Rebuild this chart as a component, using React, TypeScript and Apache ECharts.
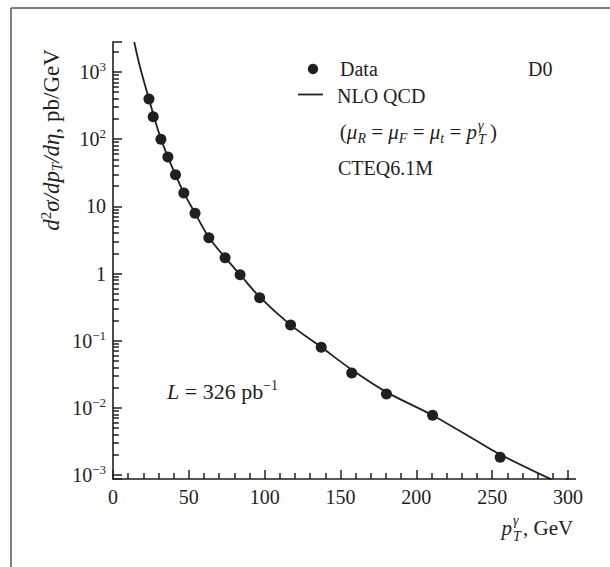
import React, { useEffect, useRef } from 'react';
import * as echarts from 'echarts';

const FONT = 'Liberation Serif, serif';
const INK = '#231f20';

// Measured D0 data points
const dataPt = [23.7, 26.5, 31.6, 36.2, 41.2, 46.7, 54.1, 63.2, 73.9, 83.8, 96.7, 117.1, 137.3, 157.4, 180.3, 210.7, 255.3];
const dataSigma = [396, 216, 100, 54.3, 29.6, 15.8, 7.87, 3.41, 1.72, 0.96, 0.436, 0.171, 0.0796, 0.033, 0.0161, 0.00775, 0.00184];

// NLO QCD curve
const nloPt = [14, 16, 18, 20, 23, 26, 30, 35, 40, 46, 54, 63, 74, 84, 97, 117, 137, 157, 180, 210, 240, 255, 289];
const nloSigma = [2800, 1750, 1150, 780, 450, 260, 130, 63, 34, 17, 8.0, 3.5, 1.72, 0.95, 0.44, 0.172, 0.081, 0.0375, 0.0173, 0.0079, 0.0032, 0.00204, 0.00086];

// Axes
const xMin = 0;
const xMax = 300;
const yMin = 0.000872;
const yMax = 2797;
const xMajorTicks = [0, 50, 100, 150, 200, 250, 300];
const yMajorTicks = [0.001, 0.01, 0.1, 1, 10, 100, 1000];
const yMinorMultipliers = [2, 3, 4, 5, 6, 7, 8, 9];
const yLabels: Record<string, string> = {
  '-3': '{b|10}{s|\u22123}',
  '-2': '{b|10}{s|\u22122}',
  '-1': '{b|10}{s|\u22121}',
  '0': '{b|1}',
  '1': '{b|10}',
  '2': '{b|10}{s|2}',
  '3': '{b|10}{s|3}',
};

const yMinorTicks: number[] = [];
yMajorTicks.forEach((d) => {
  yMinorMultipliers.forEach((m) => {
    const v = m * d;
    if (v < yMax) yMinorTicks.push(v);
  });
});

// minor y tick length in x-axis units (about 6 px)
const Y_TICK_MINOR = 3.9;

const tf = (style: string, size: number) => `${style} ${size}px ${FONT}`;
const mkRich = (size: number, small: number) => ({
  r: { font: tf('normal', size), lineHeight: 26 },
  i: { font: tf('italic', size), lineHeight: 26 },
  sup: { font: tf('normal', small), lineHeight: 13, verticalAlign: 'top' },
  sub: { font: tf('italic', small), lineHeight: 13, verticalAlign: 'bottom' },
});

const txt = (text: string, x: number, y: number, align = 'left', size = 20, small = 13, extra: any = {}) => ({
  type: 'text',
  x,
  y,
  silent: true,
  ...extra,
  style: {
    text,
    font: tf('normal', size),
    fill: INK,
    textAlign: align,
    textVerticalAlign: 'middle',
    rich: mkRich(size, small),
  },
});

const plain = (text: string, x: number, y: number, font: string, align = 'left') => ({
  type: 'text',
  x,
  y,
  silent: true,
  style: { text, font, fill: INK, textAlign: align, textVerticalAlign: 'middle' },
});

const minorTickLines = yMinorTicks.map((v) => [{ coord: [xMin, v] }, { coord: [xMin + Y_TICK_MINOR, v] }]);

export default function App() {
  const ref = useRef<HTMLDivElement>(null);
  useEffect(() => {
    document.body.style.margin = '0';
    const chart = echarts.init(ref.current!, null, { renderer: 'svg' });
    const option: any = {
      animation: false,
      grid: { left: 113, right: 42, top: 42, bottom: 88, containLabel: false },
      xAxis: {
        type: 'value',
        min: xMin,
        max: xMax,
        interval: 50,
        axisLine: { show: true, onZero: false, lineStyle: { color: INK, width: 1.6 } },
        axisTick: { show: true, inside: true, length: 9, lineStyle: { color: INK, width: 1.5 } },
        minorTick: { show: true, splitNumber: 5, length: 6, lineStyle: { color: INK, width: 1.5 } },
        splitLine: { show: false },
        minorSplitLine: { show: false },
        axisLabel: {
          margin: 8,
          color: INK,
          fontFamily: FONT,
          fontSize: 20,
          showMinLabel: true,
          showMaxLabel: true,
          formatter: (v: number) => (xMajorTicks.includes(v) ? String(v) : ''),
        },
      },
      yAxis: {
        type: 'log',
        min: yMin,
        max: yMax,
        axisLine: { show: true, onZero: false, lineStyle: { color: INK, width: 1.6 } },
        axisTick: { show: true, inside: true, length: 9, lineStyle: { color: INK, width: 1.5 } },
        splitLine: { show: false },
        axisLabel: {
          margin: 7,
          color: INK,
          fontFamily: FONT,
          fontSize: 20,
          showMinLabel: true,
          showMaxLabel: true,
          formatter: (v: number) => {
            const e = Math.log10(v);
            const r = Math.round(e);
            if (Math.abs(e - r) > 1e-6) return '';
            return yLabels[String(r)] ?? '';
          },
          rich: {
            b: { fontFamily: FONT, fontSize: 20, lineHeight: 24, color: INK },
            s: { fontFamily: FONT, fontSize: 13, lineHeight: 13, verticalAlign: 'top', color: INK },
          },
        },
      },
      series: [
        {
          name: 'NLO QCD',
          type: 'line',
          data: nloPt.map((x, i) => [x, nloSigma[i]]),
          showSymbol: false,
          smooth: 0.3,
          clip: true,
          lineStyle: { color: INK, width: 1.8 },
          z: 3,
        },
        {
          name: 'Data',
          type: 'scatter',
          data: dataPt.map((x, i) => [x, dataSigma[i]]),
          symbol: 'circle',
          symbolSize: 11,
          itemStyle: { color: INK, opacity: 1 },
          markLine: {
            silent: true,
            symbol: 'none',
            label: { show: false },
            lineStyle: { color: INK, type: 'solid', width: 1.5 },
            data: minorTickLines,
          },
        },
      ],
      graphic: [
        { type: 'line', silent: true, shape: { x1: 11, y1: 8, x2: 11, y2: 567 }, style: { stroke: '#555', lineWidth: 1.5 } },
        { type: 'line', silent: true, shape: { x1: 11, y1: 8, x2: 610, y2: 8 }, style: { stroke: '#555', lineWidth: 1.5 } },
        // axis line continues a little past 300
        { type: 'line', silent: true, shape: { x1: 566, y1: 479, x2: 576, y2: 479 }, style: { stroke: INK, lineWidth: 1.6 } },
        // legend
        { type: 'circle', silent: true, shape: { cx: 313, cy: 69, r: 5.2 }, style: { fill: INK } },
        plain('Data', 340, 69, tf('normal', 20)),
        plain('D0', 528, 69, tf('normal', 20)),
        { type: 'line', silent: true, shape: { x1: 298, y1: 94.5, x2: 323, y2: 94.5 }, style: { stroke: INK, lineWidth: 1.8 } },
        plain('NLO QCD', 337, 96, tf('normal', 20)),
        txt('{r|(}{i|\u03bc}{sub|R}{r| = }{i|\u03bc}{sub|F}{r| = }{i|\u03bc}{sub|t}{r| = }{i|p}', 477, 132, 'right', 21, 14),
        plain('\u03b3', 478, 125, tf('italic', 14)),
        plain('T', 478, 139, tf('italic', 14)),
        plain(')', 490, 132, tf('normal', 21)),
        plain('CTEQ6.1M', 338, 168, tf('normal', 20)),
        txt('{i|L}{r| = 326 pb}{sup|\u22121}', 167, 391, 'left', 22, 14),
        // x title
        plain('p', 512, 528, tf('italic', 21), 'right'),
        plain('\u03b3', 513, 520, tf('italic', 14)),
        plain('T', 513, 536, tf('italic', 14)),
        plain(', GeV', 523, 528, tf('normal', 21)),
        // y title
        txt('{i|d}{sup|2}{i|\u03c3/dp}{sub|T}{i|/d\u03b7}{r|, pb/GeV}', 51, 140, 'center', 23, 15, { rotation: Math.PI / 2 }),
      ],
    };
    chart.setOption(option);
    return () => chart.dispose();
  }, []);
  return <div ref={ref} style={{ width: 610, height: 567 }} />;
}
